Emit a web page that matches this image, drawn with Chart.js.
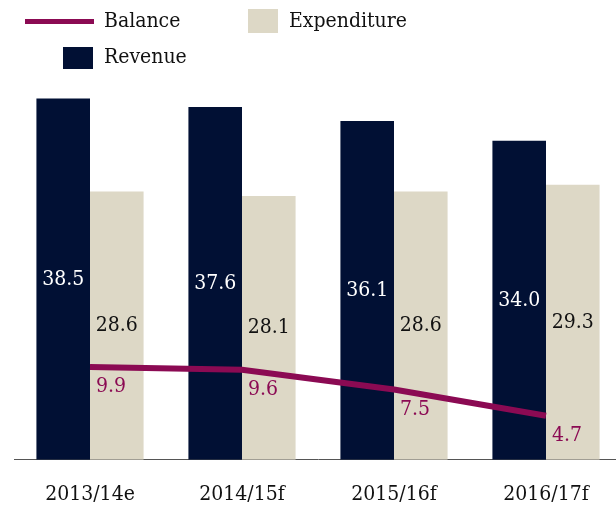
<!DOCTYPE html>
<html>
<head>
<meta charset="utf-8">
<script src="https://cdn.jsdelivr.net/npm/chart.js@4.4.1/dist/chart.umd.min.js"></script>
<style>
html,body{margin:0;padding:0;overflow:hidden;background:#fff;}
#wrap{width:622px;height:532px;position:relative;}
</style>
</head>
<body>
<div id="wrap"><canvas id="c" width="622" height="532"></canvas></div>
<script>
const categories = ['2013/14e', '2014/15f', '2015/16f', '2016/17f'];
const revenue = [38.5, 37.6, 36.1, 34.0];
const expenditure = [28.6, 28.1, 28.6, 29.3];
const balance = [9.9, 9.6, 7.5, 4.7];

const NAVY = '#011034';
const BEIGE = '#ddd8c6';
const MAROON = '#8b0a53';
const FONT = '"DejaVu Serif Condensed", "DejaVu Serif", serif';
const FS = 21;

const labelPlugin = {
  id: 'valueLabels',
  afterDatasetsDraw(chart) {
    const ctx = chart.ctx;
    ctx.save();
    ctx.font = FS + 'px ' + FONT;
    chart.data.datasets.forEach((ds, i) => {
      const meta = chart.getDatasetMeta(i);
      meta.data.forEach((el, j) => {
        const v = ds.data[j].toFixed(1);
        if (ds.type === 'line') {
          ctx.fillStyle = MAROON;
          ctx.textAlign = 'left';
          ctx.textBaseline = 'middle';
          ctx.fillText(v, el.x + 6, el.y + 20);
        } else {
          ctx.fillStyle = ds.labelColor;
          ctx.textAlign = 'center';
          ctx.textBaseline = 'middle';
          ctx.fillText(v, el.x, (el.y + el.base) / 2);
        }
      });
    });
    ctx.restore();
  }
};

const legendPlugin = {
  id: 'customLegend',
  afterDraw(chart) {
    const ctx = chart.ctx;
    ctx.save();
    ctx.font = FS + 'px ' + FONT;
    ctx.textBaseline = 'middle';
    ctx.textAlign = 'left';
    ctx.fillStyle = MAROON;
    ctx.fillRect(25, 19, 69, 5);
    ctx.fillStyle = '#111';
    ctx.fillText(chart.data.datasets[0].label, 104, 22);
    ctx.fillStyle = BEIGE;
    ctx.fillRect(248, 9, 30, 24);
    ctx.fillStyle = '#111';
    ctx.fillText(chart.data.datasets[2].label, 289, 22);
    ctx.fillStyle = NAVY;
    ctx.fillRect(63, 47, 30, 22);
    ctx.fillStyle = '#111';
    ctx.fillText(chart.data.datasets[1].label, 104, 58);
    ctx.restore();
  }
};

new Chart(document.getElementById('c'), {
  type: 'bar',
  data: {
    labels: categories,
    datasets: [
      {
        type: 'line', label: 'Balance', data: balance,
        borderColor: MAROON, backgroundColor: MAROON, borderWidth: 6,
        pointRadius: 0, tension: 0, order: 0, borderCapStyle: 'butt'
      },
      {
        label: 'Revenue', data: revenue, backgroundColor: NAVY,
        labelColor: '#ffffff', order: 1,
        barPercentage: 1, categoryPercentage: 0.705
      },
      {
        label: 'Expenditure', data: expenditure, backgroundColor: BEIGE,
        labelColor: '#111111', order: 1,
        barPercentage: 1, categoryPercentage: 0.705
      }
    ]
  },
  options: {
    responsive: false,
    animation: false,
    layout: { padding: { left: 14, right: 0, top: 0, bottom: 3 } },
    plugins: { legend: { display: false }, tooltip: { enabled: false } },
    scales: {
      x: {
        grid: { display: false, drawTicks: false },
        border: { display: true, color: '#555', width: 1 },
        ticks: { color: '#111', font: { family: FONT, size: FS }, padding: 22 }
      },
      y: { display: false, min: 0, max: 49 }
    }
  },
  plugins: [labelPlugin, legendPlugin]
});
</script>
</body>
</html>
